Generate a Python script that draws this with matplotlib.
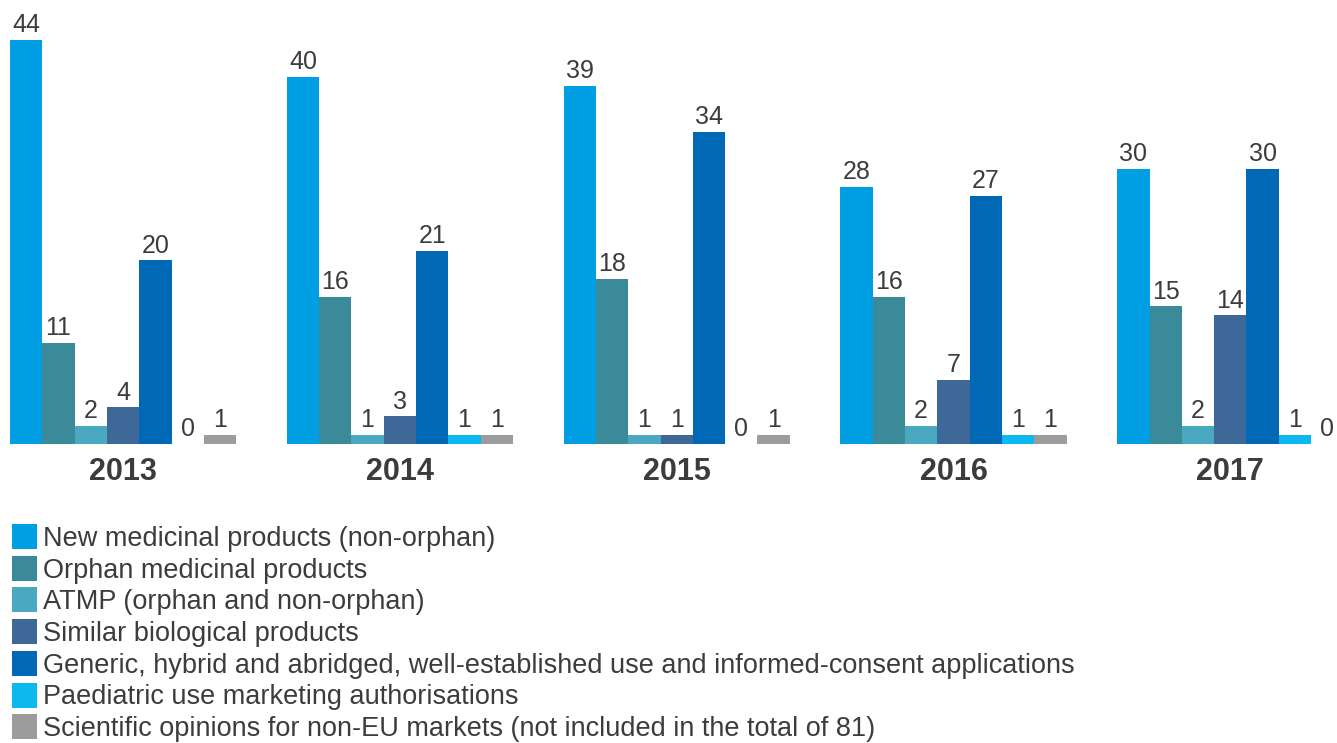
import matplotlib.pyplot as plt
from matplotlib.patches import Rectangle
import numpy as np

plt.rcParams['font.family'] = ['Liberation Sans', 'DejaVu Sans']

years = ['2013', '2014', '2015', '2016', '2017']
series_names = [
    'New medicinal products (non-orphan)',
    'Orphan medicinal products',
    'ATMP (orphan and non-orphan)',
    'Similar biological products',
    'Generic, hybrid and abridged, well-established use and informed-consent applications',
    'Paediatric use marketing authorisations',
    'Scientific opinions for non-EU markets (not included in the total of 81)',
]
new_products = [44, 40, 39, 28, 30]
orphan = [11, 16, 18, 16, 15]
atmp = [2, 1, 1, 2, 2]
similar_bio = [4, 3, 1, 7, 14]
generic = [20, 21, 34, 27, 30]
paediatric = [0, 1, 0, 1, 1]
non_eu = [1, 1, 1, 1, 0]
values = [new_products, orphan, atmp, similar_bio, generic, paediatric, non_eu]

colors = ['#009fe3', '#3b8a9a', '#4aa8c0', '#3e6898', '#0068b4', '#0bb9ee', '#9c9c9c']
text_col = '#3c3c3c'

W, H = 1337, 743
fig = plt.figure(figsize=(W / 100, H / 100), dpi=100)

# axes spans full width; baseline at y=444px
ax = fig.add_axes([0, (H - 444) / H, 1, 444 / H])
px_per_unit = 32.3
group_step = 8.57
x0 = np.arange(len(years)) * group_step

for i, (vals, col) in enumerate(zip(values, colors)):
    xs = x0 + i + 0.5
    ax.bar(xs, vals, width=1.0, color=col, linewidth=0)
    for x, v in zip(xs, vals):
        ax.annotate(str(v), (x, v), xytext=(0, 2), textcoords='offset points',
                    ha='center', va='bottom', fontsize=18, color=text_col)

ax.set_xlim(-10 / px_per_unit, (W - 10) / px_per_unit)
ax.set_ylim(0, 444 / 9.18)
ax.set_xticks(x0 + 3.5)
ax.set_xticklabels(years, fontsize=22, fontweight='bold', color=text_col)
ax.tick_params(axis='x', length=0, pad=9)
ax.set_yticks([])
for s in ax.spines.values():
    s.set_visible(False)

# legend drawn by hand
for i, (lab, col) in enumerate(zip(series_names, colors)):
    yc = 537 + i * 31.7
    fig.patches.append(Rectangle((12 / W, 1 - (yc + 12) / H), 25 / W, 25 / H,
                                 transform=fig.transFigure, color=col, lw=0))
    fig.text(43 / W, 1 - (yc + 2) / H, lab, fontsize=19.5, color=text_col,
             va='center', ha='left')

fig.savefig('out.png', dpi=100)
